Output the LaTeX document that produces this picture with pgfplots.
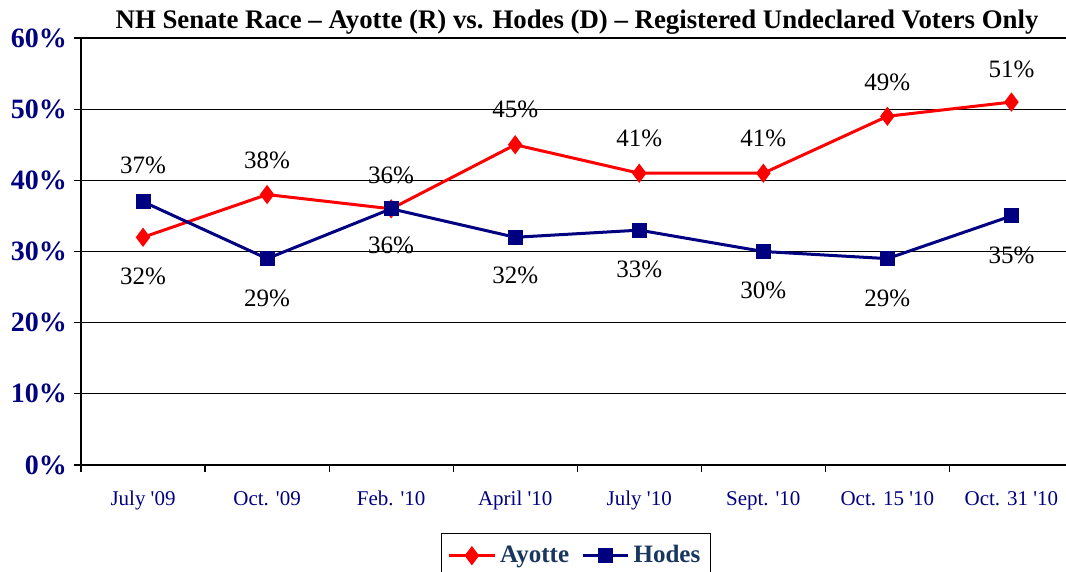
\documentclass[border=0pt]{standalone}
\usepackage{fontspec}
\setmainfont{Liberation Serif}
\usepackage{xcolor}
\definecolor{navyTick}{HTML}{000080}
\definecolor{legendBlue}{HTML}{17375E}
\definecolor{ayotteRed}{HTML}{FF0000}
\usepackage{pgfplots}
\pgfplotsset{compat=1.18}
\usepackage{pgfplotstable}
\newcommand{\q}{\textquotesingle}

% x = poll index, y = share, dy = label offset (pt)
\pgfplotstableread{
x y dy
0 32 -19.5
1 38 17
2 36 16.5
3 45 17.5
4 41 17.5
5 41 17.5
6 49 17
7 51 16.5
}\ayotte
\pgfplotstableread{
x y dy
0 37 18
1 29 -20
2 36 -18.5
3 32 -19
4 33 -19.5
5 30 -19.5
6 29 -20
7 35 -19.5
}\hodes

\begin{document}
\begin{tikzpicture}
\begin{axis}[
  name=ax,
  scale only axis,
  width=492.5pt, height=213.5pt,
  xmin=-0.5, xmax=7.44,
  ymin=0, ymax=60,
  axis x line*=bottom, axis y line*=left,
  axis line style={black, line width=0.6pt},
  xtick={0,...,7},
  xticklabels={July \q09, Oct. \q09, Feb. \q10, April \q10, July \q10, Sept. \q10, Oct. 15 \q10, Oct. 31 \q10},
  major x tick style={draw=none},
  minor xtick={-0.5,0.5,...,6.5},
  minor tick length=3.5pt,
  major tick length=3.5pt,
  tick align=outside,
  tick style={black, line width=0.6pt},
  xticklabel style={font=\fontsize{10.5}{12}\selectfont, text=navyTick, yshift=-6pt},
  ytick={0,10,...,60},
  yticklabel={\pgfmathprintnumber{\tick}\%},
  yticklabel style={font=\bfseries\fontsize{14}{16}\selectfont, text=navyTick},
  /pgf/number format/assume math mode=true,
  ymajorgrids,
  grid style={black, line width=0.6pt},
  title={NH Senate Race -- Ayotte (R) vs. Hodes (D) -- Registered Undeclared Voters Only},
  title style={at={(0.5036,1)}, anchor=center, yshift=2pt, font=\bfseries\fontsize{13.4}{15}\selectfont},
  point meta=y,
  nodes near coords={\pgfmathprintnumber{\pgfplotspointmeta}\%},
  visualization depends on={\thisrow{dy} \as \dy},
  every node near coord/.append style={anchor=center, yshift=\dy pt, black, font=\fontsize{12.5}{14}\selectfont},
  legend columns=2,
  legend style={at={(0.5025,-0.159)}, anchor=north, draw=black, line width=0.6pt,
    font=\bfseries\fontsize{12.5}{14}\selectfont, text=legendBlue, inner ysep=4pt,
    /tikz/every even column/.append style={column sep=4pt}},
  legend image code/.code={\draw[mark repeat=2, mark phase=2] plot coordinates {(0cm,0cm) (0.4cm,0cm) (0.8cm,0cm)};},
]
\addplot[color=ayotteRed, line width=1.5pt, mark=diamond*, mark size=3.6pt, mark options={solid}] table[x=x, y=y] {\ayotte};
\addlegendentry{Ayotte}
\addplot[color=navyTick, line width=1.5pt, mark=square*, mark size=3pt, mark options={solid}] table[x=x, y=y] {\hodes};
\addlegendentry{Hodes}
\end{axis}
\pgfresetboundingbox
\path ([shift={(-40.5pt,-53pt)}]ax.south west) rectangle ([shift={(0pt,19pt)}]ax.north east);
\end{tikzpicture}
\end{document}
